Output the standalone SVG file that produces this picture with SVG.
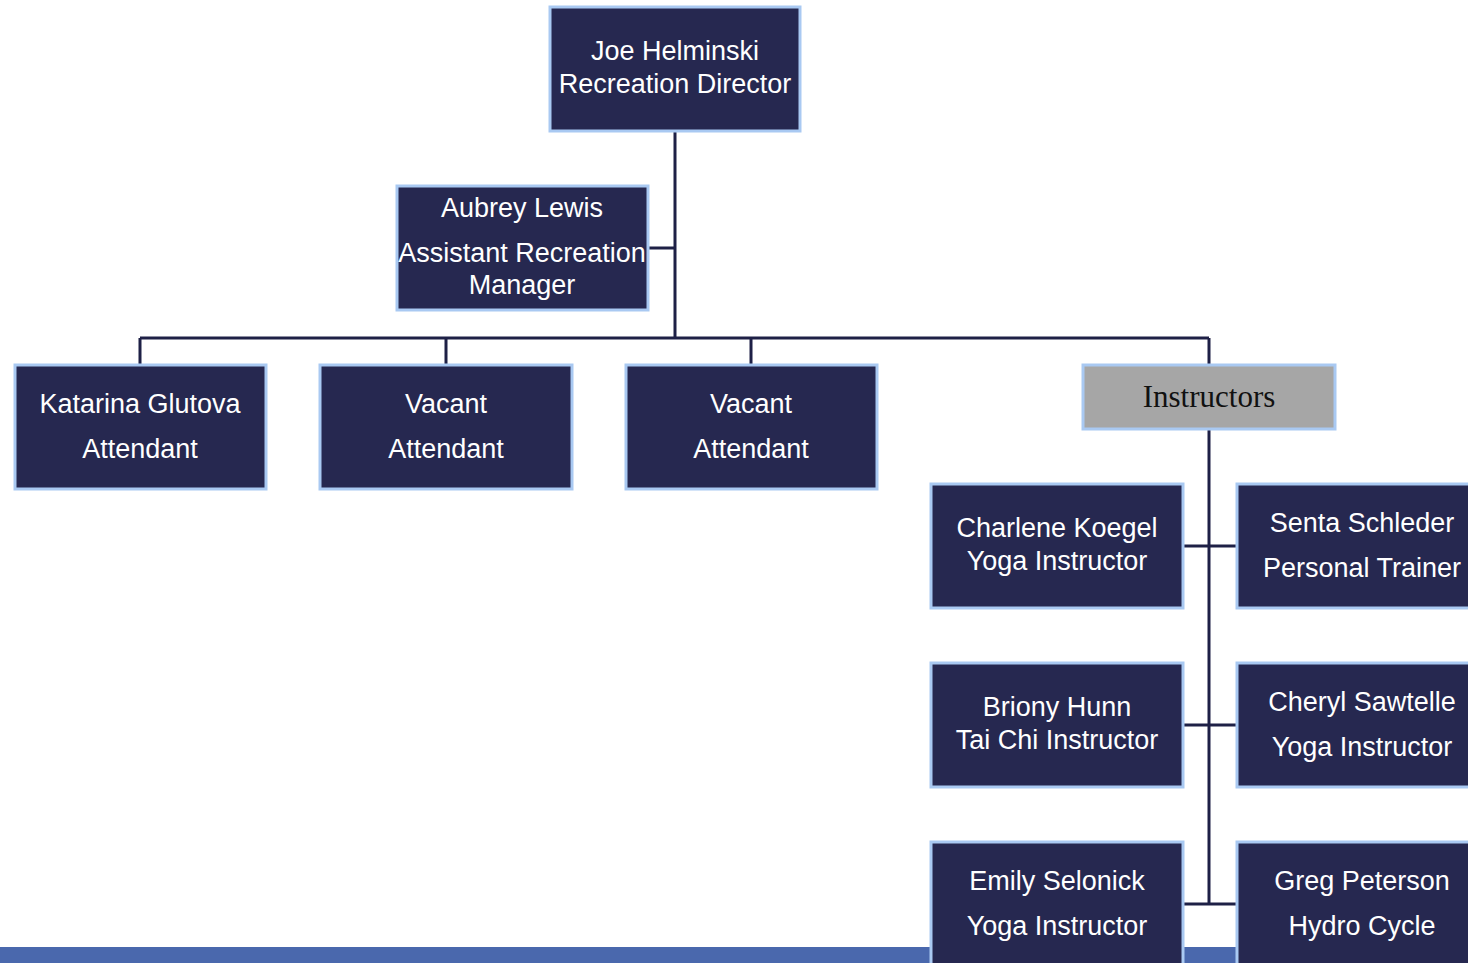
<svg xmlns="http://www.w3.org/2000/svg" width="1468" height="963" viewBox="0 0 1468 963">
  <style>
    .box { fill: #262850; stroke: #a9c9f2; stroke-width: 3; }
    .grey { fill: #a6a6a6; stroke: #a9c9f2; stroke-width: 3; }
    .lbl { font-family: "Liberation Sans", Arial, sans-serif; font-size: 27px; fill: #ffffff; text-anchor: middle; }
    .serif { font-family: "Liberation Serif", "Times New Roman", serif; font-size: 31px; fill: #111111; text-anchor: middle; }
    .wire { stroke: #1e2046; stroke-width: 3; fill: none; }
  </style>
  <rect width="1468" height="963" fill="#ffffff"/>
  <!-- footer band -->
  <rect x="0" y="947" width="1468" height="16" fill="#4a68ad"/>

  <g id="connectors">
    <path class="wire" d="M675 132 V338 M648 248 H675 M140 338 H1209 M140 338 V365 M446 338 V365 M751 338 V365 M1209 338 V365"/>
    <path class="wire" d="M1209 429 V904 M1183 546 H1237 M1183 725 H1237 M1183 904 H1237"/>
  </g>

  <g id="director">
    <rect class="box" x="550" y="7" width="250" height="124"/>
    <text class="lbl" x="675" y="60">Joe Helminski</text>
    <text class="lbl" x="675" y="93">Recreation Director</text>
  </g>
  <g id="assistant">
    <rect class="box" x="397" y="186" width="251" height="124"/>
    <text class="lbl" x="522" y="217">Aubrey Lewis</text>
    <text class="lbl" x="522" y="262">Assistant Recreation</text>
    <text class="lbl" x="522" y="294">Manager</text>
  </g>
  <g id="attendant1">
    <rect class="box" x="15" y="365" width="251" height="124"/>
    <text class="lbl" x="140" y="413">Katarina Glutova</text>
    <text class="lbl" x="140" y="458">Attendant</text>
  </g>
  <g id="attendant2">
    <rect class="box" x="320" y="365" width="252" height="124"/>
    <text class="lbl" x="446" y="413">Vacant</text>
    <text class="lbl" x="446" y="458">Attendant</text>
  </g>
  <g id="attendant3">
    <rect class="box" x="626" y="365" width="251" height="124"/>
    <text class="lbl" x="751" y="413">Vacant</text>
    <text class="lbl" x="751" y="458">Attendant</text>
  </g>
  <g id="instructors">
    <rect class="grey" x="1083" y="365" width="252" height="64"/>
    <text class="serif" x="1209" y="407">Instructors</text>
  </g>
  <g id="charlene">
    <rect class="box" x="931" y="484" width="252" height="124"/>
    <text class="lbl" x="1057" y="537">Charlene Koegel</text>
    <text class="lbl" x="1057" y="570">Yoga Instructor</text>
  </g>
  <g id="senta">
    <rect class="box" x="1237" y="484" width="240" height="124"/>
    <text class="lbl" x="1362" y="532">Senta Schleder</text>
    <text class="lbl" x="1362" y="577">Personal Trainer</text>
  </g>
  <g id="briony">
    <rect class="box" x="931" y="663" width="252" height="124"/>
    <text class="lbl" x="1057" y="716">Briony Hunn</text>
    <text class="lbl" x="1057" y="749">Tai Chi Instructor</text>
  </g>
  <g id="cheryl">
    <rect class="box" x="1237" y="663" width="240" height="124"/>
    <text class="lbl" x="1362" y="711">Cheryl Sawtelle</text>
    <text class="lbl" x="1362" y="756">Yoga Instructor</text>
  </g>
  <g id="emily">
    <rect class="box" x="931" y="842" width="252" height="130"/>
    <text class="lbl" x="1057" y="890">Emily Selonick</text>
    <text class="lbl" x="1057" y="935">Yoga Instructor</text>
  </g>
  <g id="greg">
    <rect class="box" x="1237" y="842" width="240" height="130"/>
    <text class="lbl" x="1362" y="890">Greg Peterson</text>
    <text class="lbl" x="1362" y="935">Hydro Cycle</text>
  </g>
</svg>
